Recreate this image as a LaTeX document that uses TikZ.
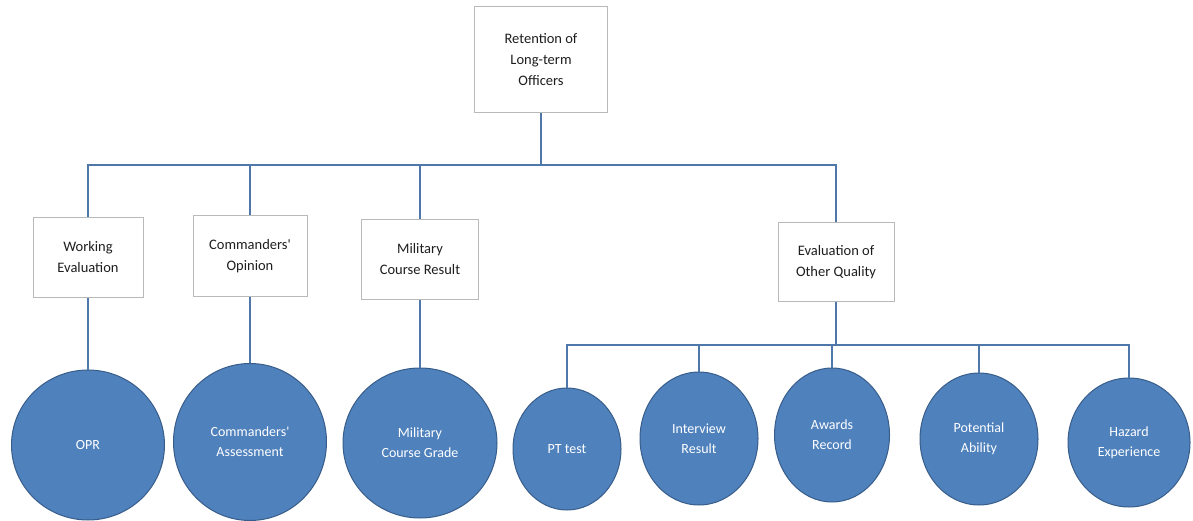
\documentclass[tikz,border=0pt]{standalone}
\usepackage{fontspec}
\setmainfont{Carlito}
\usetikzlibrary{shapes.geometric}
\definecolor{boxline}{RGB}{185,185,185}
\definecolor{conn}{RGB}{79,120,170}
\definecolor{cfill}{RGB}{79,129,189}
\definecolor{cline}{RGB}{56,93,138}
\definecolor{txt}{RGB}{30,30,30}
\begin{document}
\begin{tikzpicture}[x=1pt,y=-1pt,
  boxnode/.style={draw=boxline,line width=1pt,fill=white,align=center,font=\fontsize{14.5}{21}\selectfont,text=txt,inner sep=2pt},
  circnode/.style={ellipse,draw=cline,line width=1pt,fill=cfill,align=center,text=white,font=\fontsize{14}{20}\selectfont,inner sep=0pt},
  link/.style={draw=conn,line width=1.4pt}]
\useasboundingbox (0,0) rectangle (1193,521);
% top
\node[boxnode,minimum width=133,minimum height=106] (top) at (541,60) {Retention of\\Long-term\\Officers};
% level 2
\node[boxnode,minimum width=110,minimum height=79] (we) at (88,257.5) {Working\\Evaluation};
\node[boxnode,minimum width=114,minimum height=80] (co) at (250,256) {Commanders\textquotesingle\\Opinion};
\node[boxnode,minimum width=117,minimum height=79] (mc) at (420,259.5) {Military\\Course Result};
\node[boxnode,minimum width=116,minimum height=78] (eo) at (836,262) {Evaluation of\\Other Quality};
% level 3 circles
\node[circnode,minimum width=153,minimum height=150] (opr) at (88,445) {OPR};
\node[circnode,minimum width=153,minimum height=157] (ca) at (250,442) {Commanders\textquotesingle\\Assessment};
\node[circnode,minimum width=154,minimum height=150] (mg) at (420,443) {Military\\Course Grade};
\node[circnode,minimum width=108,minimum height=122] (pt) at (567,449) {PT test};
\node[circnode,minimum width=118,minimum height=133] (ir) at (699,438.5) {Interview\\Result};
\node[circnode,minimum width=115,minimum height=134] (ar) at (832,435) {Awards\\Record};
\node[circnode,minimum width=118,minimum height=132] (pa) at (979,439) {Potential\\Ability};
\node[circnode,minimum width=122,minimum height=129] (he) at (1129,442.5) {Hazard\\Experience};
% bus coordinates
\coordinate (busA) at (541,165);
\coordinate (busB) at (836,345);
% connectors
\draw[link] (top.south) -- (busA) -| (we.north);
\draw[link] (busA) -| (co.north);
\draw[link] (busA) -| (mc.north);
\draw[link] (busA) -| (eo.north);
\draw[link] (we.south) -- (opr.north);
\draw[link] (co.south) -- (ca.north);
\draw[link] (mc.south) -- (mg.north);
\draw[link] (eo.south) -- (busB) -| (pt.north);
\draw[link] (busB) -| (ir.north);
\draw[link] (busB) -| (ar.north);
\draw[link] (busB) -| (pa.north);
\draw[link] (busB) -| (he.north);
\end{tikzpicture}
\end{document}
